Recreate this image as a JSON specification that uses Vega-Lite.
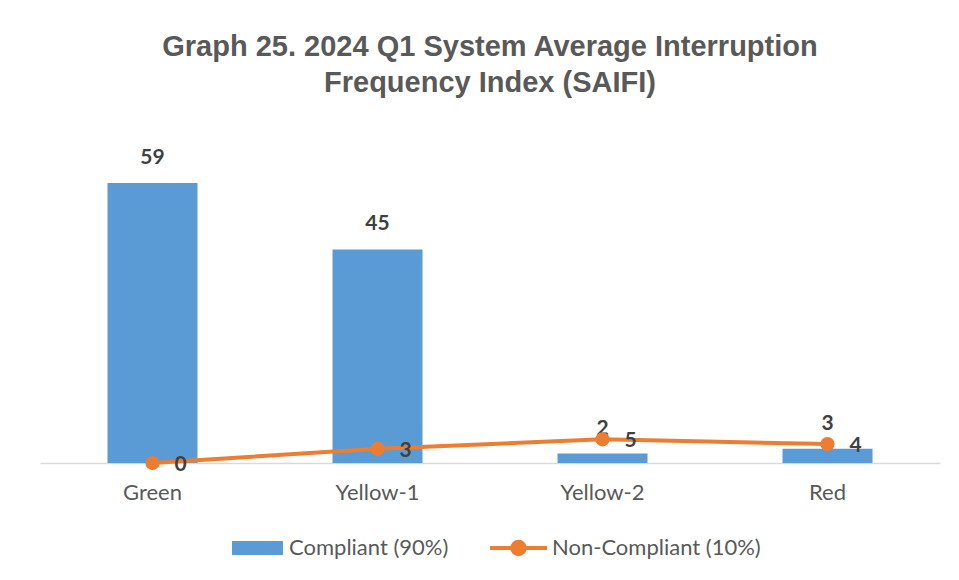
{
  "$schema": "https://vega.github.io/schema/vega-lite/v6.json",
  "width": 900,
  "height": 308.5,
  "autosize": "none",
  "padding": {"left": 40, "top": 154.5, "right": 19, "bottom": 117},
  "background": "white",
  "title": {
    "text": ["Graph 25. 2024 Q1 System Average Interruption", "Frequency Index (SAIFI)"],
    "font": "Liberation Sans",
    "fontSize": 29,
    "fontWeight": "bold",
    "color": "#595959",
    "anchor": "middle",
    "offset": 49,
    "lineHeight": 36
  },
  "data": {
    "values": [
      {"category": "Green", "compliant": 59, "noncompliant": 0},
      {"category": "Yellow-1", "compliant": 45, "noncompliant": 3},
      {"category": "Yellow-2", "compliant": 2, "noncompliant": 5},
      {"category": "Red", "compliant": 3, "noncompliant": 4}
    ]
  },
  "encoding": {
    "x": {
      "field": "category",
      "type": "nominal",
      "sort": null,
      "scale": {"paddingInner": 0.6, "paddingOuter": 0.3},
      "axis": {
        "title": null,
        "labelAngle": 0,
        "ticks": false,
        "domainColor": "#D9D9D9",
        "domainWidth": 1.5,
        "labelFont": "Lato",
        "labelFontSize": 22,
        "labelColor": "#595959",
        "labelPadding": 19
      }
    }
  },
  "layer": [
    {
      "mark": {"type": "bar"},
      "encoding": {
        "y": {"field": "compliant", "type": "quantitative", "scale": {"domain": [0, 65]}, "axis": null},
        "fill": {
          "datum": "Compliant (90%)",
          "type": "nominal",
          "scale": {"range": ["#5B9BD5"]},
          "legend": {
            "orient": "none",
            "legendX": 192,
            "legendY": 368,
            "title": null,
            "padding": 0,
            "symbolType": "M-1,-0.275H1V0.275H-1Z",
            "symbolSize": 2601,
            "symbolStrokeWidth": 0,
            "labelFont": "Lato",
            "labelFontSize": 22,
            "labelColor": "#595959",
            "labelOffset": 6,
            "labelLimit": 400
          }
        }
      }
    },
    {
      "mark": {"type": "text", "baseline": "middle", "dy": -25, "font": "Lato", "fontWeight": "bold", "fontSize": 21, "color": "#404040"},
      "encoding": {
        "y": {"field": "compliant", "type": "quantitative", "scale": {"domain": [0, 65]}},
        "text": {"field": "compliant", "type": "quantitative"}
      }
    },
    {
      "mark": {"type": "line", "strokeWidth": 4, "point": {"filled": true, "size": 150, "color": "#ED7D31"}},
      "encoding": {
        "y": {"field": "noncompliant", "type": "quantitative", "scale": {"domain": [0, 65]}},
        "stroke": {
          "datum": "Non-Compliant (10%)",
          "type": "nominal",
          "scale": {"range": ["#ED7D31"]},
          "legend": {
            "orient": "none",
            "legendX": 448,
            "legendY": 363,
            "title": null,
            "padding": 0,
            "symbolType": "M-1,0H1M0.22,0A0.22,0.22 0 1,1 -0.22,0A0.22,0.22 0 1,1 0.22,0",
            "symbolSize": 3249,
            "symbolStrokeWidth": 4,
            "symbolFillColor": "#ED7D31",
            "symbolStrokeColor": "#ED7D31",
            "labelFont": "Lato",
            "labelFontSize": 22,
            "labelColor": "#595959",
            "labelOffset": 3,
            "labelLimit": 400
          }
        }
      }
    },
    {
      "mark": {"type": "text", "align": "left", "baseline": "middle", "dx": 22, "dy": 2, "font": "Lato", "fontWeight": "bold", "fontSize": 21, "color": "#404040"},
      "encoding": {
        "y": {"field": "noncompliant", "type": "quantitative", "scale": {"domain": [0, 65]}},
        "text": {"field": "noncompliant", "type": "quantitative"}
      }
    }
  ],
  "config": {"view": {"stroke": null}}
}
